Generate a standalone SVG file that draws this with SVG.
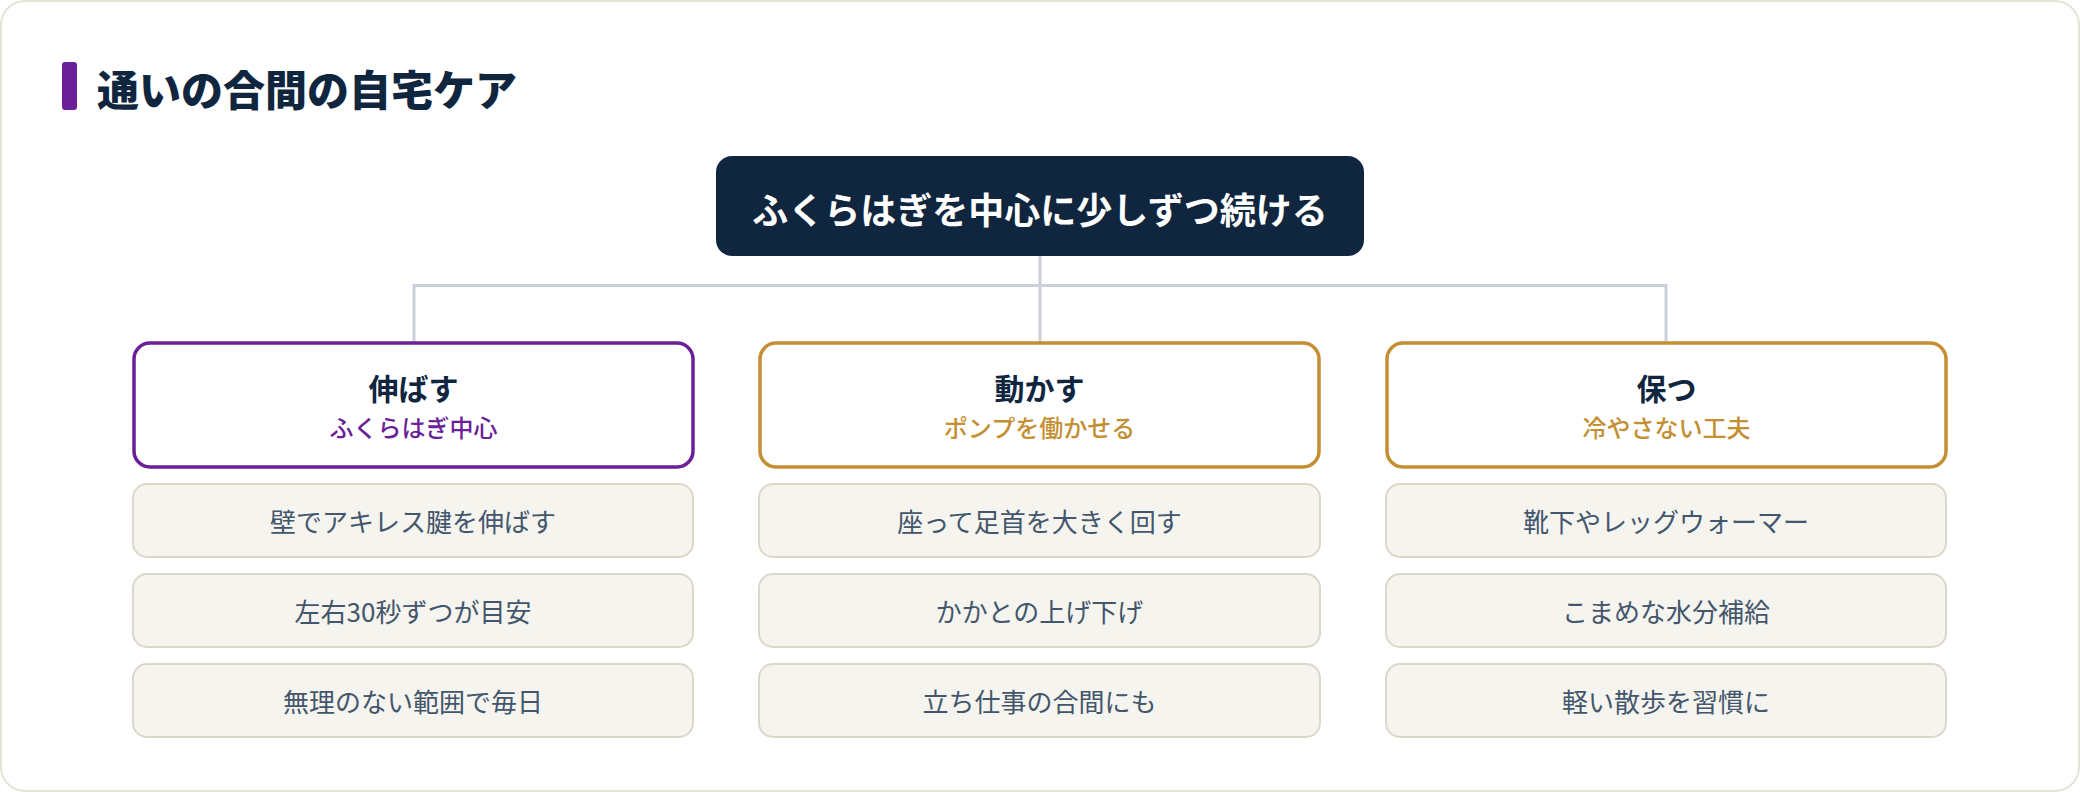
<svg xmlns="http://www.w3.org/2000/svg" width="2080" height="792" viewBox="0 0 2080 792">
<style>
text{font-family:"Noto Sans CJK JP","Noto Sans",sans-serif;text-anchor:middle;dominant-baseline:central}
.frame{fill:#ffffff;stroke:#e6e3d6;stroke-width:2}
.title{font-size:42px;font-weight:900;fill:#10263f;text-anchor:start}
.root rect{fill:#10263f}
.root text{font-size:36px;font-weight:700;fill:#ffffff}
.cat rect{fill:#ffffff;stroke-width:3.5}
.cat .h{font-size:30px;font-weight:700;fill:#10263f}
.cat .s{font-size:24px;font-weight:500}
.p rect{stroke:#6b1f98}.p .s{fill:#6b1f98}
.g rect{stroke:#c48f33}.g .s{fill:#c48f33}
.leaf rect{fill:#f5f4ef;stroke:#dcd8c9;stroke-width:2}
.leaf text{font-size:26px;fill:#43566b}
.conn{fill:none;stroke:#c9d0da;stroke-width:3}
</style>
<rect width="2080" height="792" fill="#ffffff"/>
<rect class="frame" x="1" y="1" width="2078" height="790" rx="24"/>
<g id="heading">
<rect x="62" y="62" width="15" height="48" rx="3" fill="#6b1f98"/>
<text class="title" x="97" y="87">通いの合間の自宅ケア</text>
</g>
<g id="connectors">
<path class="conn" d="M1040 256V285.5M414 342V285.5H1666V342M1040 285.5V342"/>
</g>
<g id="root" class="root">
<rect x="716" y="156" width="648" height="100" rx="16"/>
<text x="1040" y="208">ふくらはぎを中心に少しずつ続ける</text>
</g>
<g id="cat-stretch" class="cat p">
<rect x="134" y="343" width="559" height="124" rx="16"/>
<text class="h" x="413.5" y="387">伸ばす</text>
<text class="s" x="413.5" y="426">ふくらはぎ中心</text>
</g>
<g id="cat-move" class="cat g">
<rect x="760" y="343" width="559" height="124" rx="16"/>
<text class="h" x="1039.5" y="387">動かす</text>
<text class="s" x="1039.5" y="426">ポンプを働かせる</text>
</g>
<g id="cat-keep" class="cat g">
<rect x="1387" y="343" width="559" height="124" rx="16"/>
<text class="h" x="1666.5" y="387">保つ</text>
<text class="s" x="1666.5" y="426">冷やさない工夫</text>
</g>
<g id="leaf-1-1" class="leaf"><rect x="133" y="484" width="560" height="73" rx="14"/><text x="413" y="520">壁でアキレス腱を伸ばす</text></g>
<g id="leaf-1-2" class="leaf"><rect x="133" y="574" width="560" height="73" rx="14"/><text x="413" y="610">左右30秒ずつが目安</text></g>
<g id="leaf-1-3" class="leaf"><rect x="133" y="664" width="560" height="73" rx="14"/><text x="413" y="700">無理のない範囲で毎日</text></g>
<g id="leaf-2-1" class="leaf"><rect x="759" y="484" width="561" height="73" rx="14"/><text x="1039.5" y="520">座って足首を大きく回す</text></g>
<g id="leaf-2-2" class="leaf"><rect x="759" y="574" width="561" height="73" rx="14"/><text x="1039.5" y="610">かかとの上げ下げ</text></g>
<g id="leaf-2-3" class="leaf"><rect x="759" y="664" width="561" height="73" rx="14"/><text x="1039.5" y="700">立ち仕事の合間にも</text></g>
<g id="leaf-3-1" class="leaf"><rect x="1386" y="484" width="560" height="73" rx="14"/><text x="1666" y="520">靴下やレッグウォーマー</text></g>
<g id="leaf-3-2" class="leaf"><rect x="1386" y="574" width="560" height="73" rx="14"/><text x="1666" y="610">こまめな水分補給</text></g>
<g id="leaf-3-3" class="leaf"><rect x="1386" y="664" width="560" height="73" rx="14"/><text x="1666" y="700">軽い散歩を習慣に</text></g>
</svg>
